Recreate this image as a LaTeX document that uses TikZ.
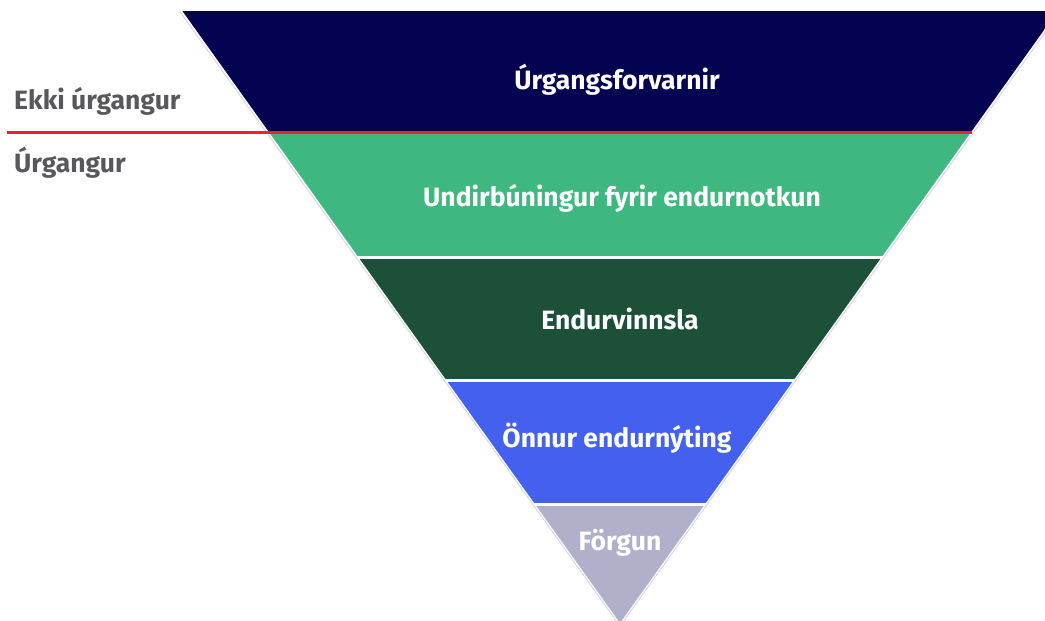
\documentclass[tikz,border=0pt]{standalone}
\usepackage{fontspec}
\setmainfont{Fira Sans}
\definecolor{navy}{RGB}{3,3,82}
\definecolor{mgreen}{RGB}{62,184,128}
\definecolor{dgreen}{RGB}{29,80,56}
\definecolor{mblue}{RGB}{67,97,238}
\definecolor{lgray}{RGB}{176,176,202}
\definecolor{txtgray}{RGB}{88,88,92}
\definecolor{redline}{RGB}{225,40,40}
\definecolor{outl}{RGB}{215,215,230}
\begin{document}
\begin{tikzpicture}[x=1pt,y=-1pt,
  bandlabel/.style={text=white,font=\bfseries\fontsize{26.5}{30}\selectfont,anchor=center,inner sep=0pt},
  sidelabel/.style={text=txtgray,font=\bfseries\fontsize{26.5}{30}\selectfont,anchor=west,inner sep=0pt}]
\useasboundingbox (0,0) rectangle (1045,621);
% outline
\draw[outl,line width=1pt] (179.5,11) -- (620,626) -- (1060.5,11);
\begin{scope}
\clip (182.4,11) -- (1057.6,11) -- (620,623) -- cycle;
\fill[navy]   (0,11)  rectangle (1100,131);
\fill[mgreen] (0,134) rectangle (1100,256);
\fill[dgreen] (0,258.5) rectangle (1100,379);
\fill[mblue]  (0,382) rectangle (1100,503);
\fill[lgray]  (0,506) rectangle (1100,630);
\end{scope}
\coordinate (rl) at (7,132.5);
\coordinate (rr) at (972,132.5);
\draw[redline,line width=2.4pt] (rl) -- (rr);
\node[bandlabel] (b1) at (617,80) {Úrgangsforvarnir};
\node[bandlabel] (b2) at (622,198) {Undirbúningur fyrir endurnotkun};
\node[bandlabel] (b3) at (620,319) {Endurvinnsla};
\node[bandlabel] (b4) at (617,438) {Önnur endurnýting};
\node[bandlabel] (b5) at (620,543) {Förgun};
\node[sidelabel] (s1) at (14,101) {Ekki úrgangur};
\node[sidelabel] (s2) at (14,163) {Úrgangur};
\end{tikzpicture}
\end{document}
